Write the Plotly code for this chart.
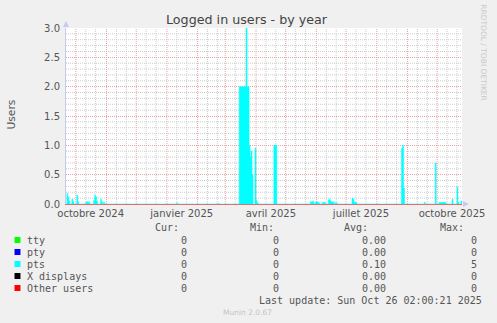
import plotly.graph_objects as go
import pandas as pd

# ---------------- data ----------------
range_start = "2024-09-21 02:00"
range_end = "2025-10-26 02:00"

pts_dates = [
    "2024-09-22", "2024-09-23", "2024-09-24", "2024-09-27", "2024-09-28",
    "2024-10-02", "2024-10-03", "2024-10-11", "2024-10-12", "2024-10-13", "2024-10-14",
    "2024-10-19", "2024-10-20", "2024-10-21", "2024-10-22",
    "2024-10-26", "2024-10-27", "2024-10-29",
    "2025-01-11", "2025-02-22",
    "2025-03-15", "2025-03-16", "2025-03-17", "2025-03-18", "2025-03-19", "2025-03-20", "2025-03-21",
    "2025-03-22", "2025-03-23", "2025-03-24", "2025-03-25", "2025-03-26", "2025-03-27", "2025-03-28",
    "2025-03-31", "2025-04-01", "2025-04-02",
    "2025-04-19", "2025-04-20", "2025-04-21",
    "2025-05-26", "2025-05-27", "2025-05-28", "2025-05-29",
    "2025-05-31", "2025-06-01", "2025-06-02", "2025-06-03",
    "2025-06-07", "2025-06-08", "2025-06-09",
    "2025-06-13", "2025-06-14", "2025-06-15",
    "2025-06-16", "2025-06-17", "2025-06-18",
    "2025-06-20", "2025-06-21",
    "2025-07-07", "2025-07-08", "2025-07-09", "2025-07-10", "2025-07-11",
    "2025-08-26", "2025-08-27", "2025-08-28",
    "2025-09-18", "2025-09-29",
    "2025-10-03", "2025-10-04", "2025-10-05", "2025-10-06", "2025-10-07", "2025-10-08", "2025-10-09",
    "2025-10-16", "2025-10-21", "2025-10-22", "2025-10-25",
]
pts_values = [
    0.18, 0.12, 0.05, 0.08, 0.04,
    0.15, 0.04, 0.03, 0.04, 0.02, 0.04,
    0.06, 0.15, 0.12, 0.05,
    0.08, 0.04, 0.03,
    0.02, 0.01,
    2.0, 2.0, 2.0, 2.0, 2.0, 2.0, 2.0,
    3.0, 2.0, 2.0, 1.0, 0.8, 0.9, 0.5,
    0.95, 0.06, 0.02,
    1.0, 1.0, 1.0,
    0.04, 0.03, 0.05, 0.02,
    0.03, 0.04, 0.03, 0.02,
    0.03, 0.02, 0.03,
    0.07, 0.08, 0.05,
    0.04, 0.03, 0.04,
    0.02, 0.02,
    0.10, 0.08, 0.03, 0.03, 0.02,
    0.95, 1.0, 0.27,
    0.03, 0.70,
    0.03, 0.03, 0.02, 0.03, 0.03, 0.02, 0.03,
    0.08, 0.29, 0.03, 0.05,
]

legend_labels = ["tty", "pty", "pts", "X displays", "Other users"]
legend_colors = ["#00ff00", "#0000ff", "#00ffff", "#000000", "#ff0000"]
cur_values = ["0", "0", "0", "0", "0"]
min_values = ["0", "0", "0", "0", "0"]
avg_values = ["0.00", "0.00", "0.10", "0.00", "0.00"]
max_values = ["0", "0", "5", "0", "0"]

y_max = 3.0
y_major_step = 0.5
y_minor_step = 0.1
x_tick_dates = ["2024-10-16", "2025-01-16", "2025-04-16", "2025-07-16", "2025-10-16"]
x_tick_labels = ["octobre 2024", "janvier 2025", "avril 2025", "juillet 2025", "octobre 2025"]

title_text = "Logged in users - by year"
last_update = "Last update: Sun Oct 26 02:00:21 2025"
munin_version = "Munin 2.0.67"
watermark = "RRDTOOL / TOBI OETIKER"

# ---------------- layout geometry ----------------
W, H = 497, 323
L, R, T, B = 66, 31, 28, 119
PW, PH = W - L - R, H - T - B


def px(x):
    return (x - L) / PW


def py(y):
    return (H - B - y) / PH


days = pd.date_range("2024-09-21", "2025-10-26", freq="D")
series = pd.Series(0.0, index=days)
series.loc[pd.to_datetime(pts_dates)] = pts_values

fig = go.Figure()
fig.add_trace(go.Scatter(
    x=series.index, y=series.values, mode="lines", line_shape="hv",
    line=dict(width=0.5, color="#00ffff"), fill="tozeroy", fillcolor="#00ffff",
    showlegend=False, hoverinfo="skip",
))

MAJOR = "#e9a4a4"
MINOR = "#cccccc"
DOT = "1px,1px"

shapes = []
# horizontal minor grid (every 0.1, skipping the major 0.5 lines)
n_minor = int(round(y_max / y_minor_step))
for i in range(1, n_minor):
    if i % int(round(y_major_step / y_minor_step)) == 0:
        continue
    yv = i * y_minor_step
    shapes.append(dict(type="line", xref="paper", yref="y", x0=0, x1=1, y0=yv, y1=yv,
                       line=dict(color=MINOR, width=1, dash=DOT), layer="below"))
# vertical grid: month starts (major) and ~10-day subdivisions (minor)
for d in pd.date_range("2024-10-01", "2025-10-01", freq="MS"):
    for day in (10, 20):
        m = d + pd.Timedelta(days=day)
        if m <= pd.Timestamp(range_end):
            shapes.append(dict(type="line", xref="x", yref="paper", x0=m, x1=m, y0=0, y1=1,
                               line=dict(color=MINOR, width=1, dash=DOT), layer="below"))
    shapes.append(dict(type="line", xref="x", yref="paper", x0=d, x1=d, y0=0, y1=1,
                       line=dict(color=MAJOR, width=1, dash=DOT), layer="below"))

# axis arrows
AX = "#c8c8f0"
shapes.append(dict(type="path", xref="paper", yref="paper",
                   path=f"M {px(63)} {py(27)} L {px(69)} {py(27)} L {px(66)} {py(21)} Z",
                   fillcolor=AX, line=dict(width=0)))
shapes.append(dict(type="path", xref="paper", yref="paper",
                   path=f"M {px(467)} {py(201)} L {px(467)} {py(207)} L {px(473)} {py(204)} Z",
                   fillcolor=AX, line=dict(width=0)))

# legend squares
rows_y = [240, 252, 264, 276, 288]
for yy, col in zip(rows_y, legend_colors):
    shapes.append(dict(type="rect", xref="paper", yref="paper",
                       x0=px(14), x1=px(20), y0=py(yy + 3), y1=py(yy - 3),
                       fillcolor=col, line=dict(width=0)))

annotations = []
MONO = dict(family="DejaVu Sans Mono", size=10, color="#555555")


def txt(text, x, y, anchor="left", font=MONO, **kw):
    annotations.append(dict(text=text, x=px(x), y=py(y), xref="paper", yref="paper",
                            xanchor=anchor, yanchor="middle", showarrow=False, font=font, **kw))


# header
txt("Cur:", 182, 228, "right")
txt("Min:", 278, 228, "right")
txt("Avg:", 373, 228, "right")
txt("Max:", 470, 228, "right")
for yy, lab, c, mn, av, mx in zip(rows_y, legend_labels, cur_values, min_values, avg_values, max_values):
    txt(lab, 25, yy, "left")
    txt(c, 190, yy, "right")
    txt(mn, 283, yy, "right")
    txt(av, 391, yy, "right")
    txt(mx, 483, yy, "right")
txt(last_update, 488, 300, "right")
txt(munin_version, 249, 312, "center", font=dict(family="DejaVu Sans", size=7.5, color="#c4c4c4"))
txt(watermark, 488, 53, "center", font=dict(family="DejaVu Sans", size=7.5, color="#c8c8c8"), textangle=90)
txt("Users", 11, 115, "center", font=dict(family="DejaVu Sans", size=10.7, color="#555555"), textangle=-90)
txt(title_text, 248.5, 19.5, "center", font=dict(family="DejaVu Sans", size=12.7, color="#444444"))

fig.update_layout(
    width=W, height=H, autosize=False,
    margin=dict(l=L, r=R, t=T, b=B, pad=0),
    paper_bgcolor="#f0f0f0", plot_bgcolor="#ffffff",
    shapes=shapes, annotations=annotations, showlegend=False,
    xaxis=dict(
        type="date", range=[range_start, range_end],
        tickmode="array", tickvals=x_tick_dates, ticktext=x_tick_labels,
        showgrid=False, zeroline=False, showline=True, linecolor="#e07070", linewidth=1,
        ticks="", 
        tickfont=dict(family="DejaVu Sans", size=10, color="#555555"),
    ),
    yaxis=dict(
        range=[0, y_max], tickmode="linear", tick0=0, dtick=y_major_step, tickformat=".1f",
        showgrid=True, gridcolor=MAJOR, griddash=DOT, gridwidth=1,
        zeroline=False, showline=True, linecolor=AX, linewidth=1,
        ticks="outside", ticklen=3, tickcolor="rgba(0,0,0,0)",
        tickfont=dict(family="DejaVu Sans", size=10, color="#555555"),
    ),
)

fig.write_html("out.html")
